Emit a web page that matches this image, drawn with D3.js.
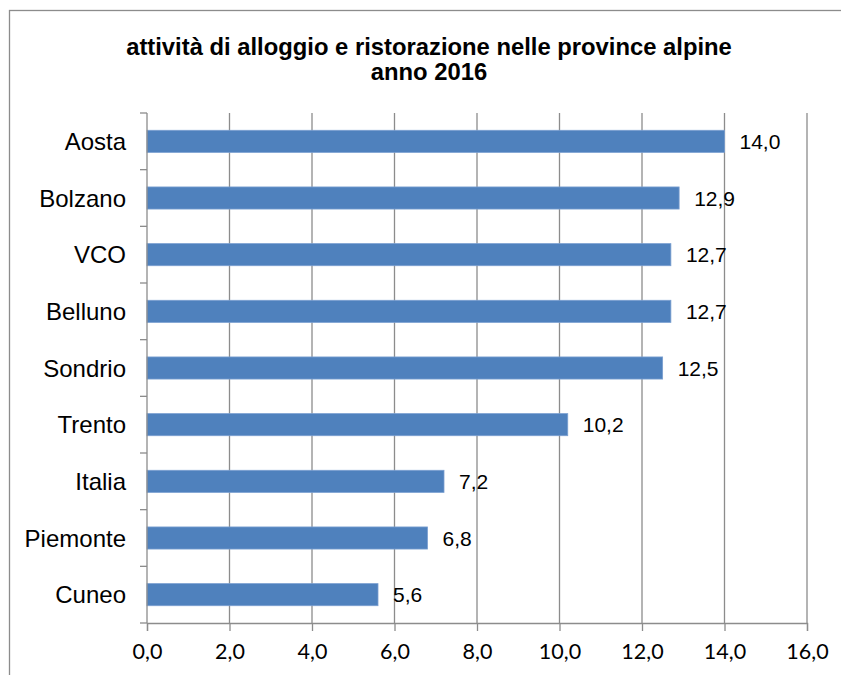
<!DOCTYPE html>
<html>
<head>
<meta charset="utf-8">
<script src="https://cdn.jsdelivr.net/npm/d3@7"></script>
<style>
  body { margin: 0; background: #fff; }
  svg { display: block; }
</style>
</head>
<body>
<div id="chart"></div>
<script>
// dati: attività di alloggio e ristorazione, anno 2016
let province = ['Aosta', 'Bolzano', 'VCO', 'Belluno', 'Sondrio', 'Trento', 'Italia', 'Piemonte', 'Cuneo'];
let valori = [14.0, 12.9, 12.7, 12.7, 12.5, 10.2, 7.2, 6.8, 5.6];
let xTicks = [0, 2, 4, 6, 8, 10, 12, 14, 16];
let titolo = ['attività di alloggio e ristorazione nelle province alpine', 'anno 2016'];

let svgwidth = 841;
let svgheight = 675;

let margin = { top: 113, right: 34, bottom: 52, left: 147 };
let width = 807 - margin.left;
let height = 623 - margin.top;

let fmt = v => d3.format('.1f')(v).replace('.', ',');

let svg = d3.select('#chart').append('svg')
    .attr('width', svgwidth)
    .attr('height', svgheight);

// cornice
svg.append('rect')
    .attr('x', 9.5)
    .attr('y', 10.5)
    .attr('width', 1000)
    .attr('height', 1000)
    .attr('fill', 'none')
    .attr('stroke', '#8c8c8c')
    .attr('stroke-width', 1.3);

// titolo
svg.append('g').selectAll('text')
    .data(titolo)
    .enter()
    .append('text')
    .attr('x', 429)
    .attr('y', (d, i) => 55 + i * 25)
    .attr('text-anchor', 'middle')
    .attr('font-family', 'Liberation Sans, Arial, sans-serif')
    .attr('font-weight', 'bold')
    .attr('font-size', '23.8px')
    .attr('fill', '#000')
    .text(d => d);

let chartgroup = svg.append('g')
    .attr('transform', `translate(${margin.left}, ${margin.top})`);

let x = d3.scaleLinear()
    .domain([0, 16])
    .range([0, width]);

let y = d3.scaleBand()
    .domain(province)
    .range([0, height])
    .paddingInner(0.61)
    .paddingOuter(0.305);

// griglia verticale
chartgroup.append('g')
    .selectAll('line')
    .data(xTicks.slice(1))
    .enter()
    .append('line')
    .attr('x1', d => x(d))
    .attr('x2', d => x(d))
    .attr('y1', 0)
    .attr('y2', height)
    .attr('stroke', '#8c8c8c')
    .attr('stroke-width', 1.3);

// barre
chartgroup.selectAll('.bar')
    .data(valori)
    .enter()
    .append('rect')
    .classed('bar', true)
    .attr('x', x(0))
    .attr('y', (d, i) => y(province[i]))
    .attr('width', d => x(d) - x(0))
    .attr('height', y.bandwidth())
    .attr('fill', '#4f81bd')
    .attr('stroke', '#7a9fd0')
    .attr('stroke-width', 0.8);

// etichette valori
chartgroup.selectAll('.val')
    .data(valori)
    .enter()
    .append('text')
    .classed('val', true)
    .attr('x', d => x(d) + 15)
    .attr('y', (d, i) => y(province[i]) + y.bandwidth() / 2)
    .attr('dy', '0.36em')
    .attr('font-family', 'Liberation Sans, Arial, sans-serif')
    .attr('font-size', '21px')
    .attr('fill', '#000')
    .text(d => fmt(d));

// asse x
let bottomAxis = d3.axisBottom(x)
    .tickValues(xTicks)
    .tickFormat(fmt)
    .tickSize(8)
    .tickPadding(13);

let xAxis = chartgroup.append('g')
    .attr('transform', `translate(0, ${height})`)
    .call(bottomAxis);

xAxis.select('.domain').attr('stroke', '#8c8c8c').attr('stroke-width', 1.3);
xAxis.selectAll('.tick line').attr('stroke', '#8c8c8c').attr('stroke-width', 1.3);
xAxis.selectAll('.tick text')
    .attr('font-family', 'Lato, Carlito, sans-serif')
    .attr('font-size', '21.5px')
    .attr('fill', '#000');

// asse y
chartgroup.append('line')
    .attr('x1', 0).attr('x2', 0)
    .attr('y1', 0).attr('y2', height)
    .attr('stroke', '#8c8c8c')
    .attr('stroke-width', 1.3);

let bordi = d3.range(province.length + 1).map(i => i * y.step());
chartgroup.append('g')
    .selectAll('line')
    .data(bordi)
    .enter()
    .append('line')
    .attr('x1', -7).attr('x2', 0)
    .attr('y1', d => d).attr('y2', d => d)
    .attr('stroke', '#8c8c8c')
    .attr('stroke-width', 1.3);

chartgroup.selectAll('.cat')
    .data(province)
    .enter()
    .append('text')
    .classed('cat', true)
    .attr('x', -21)
    .attr('y', d => y(d) + y.bandwidth() / 2)
    .attr('dy', '0.36em')
    .attr('text-anchor', 'end')
    .attr('font-family', 'Liberation Sans, Arial, sans-serif')
    .attr('font-size', '24px')
    .attr('fill', '#000')
    .text(d => d);
</script>
</body>
</html>
